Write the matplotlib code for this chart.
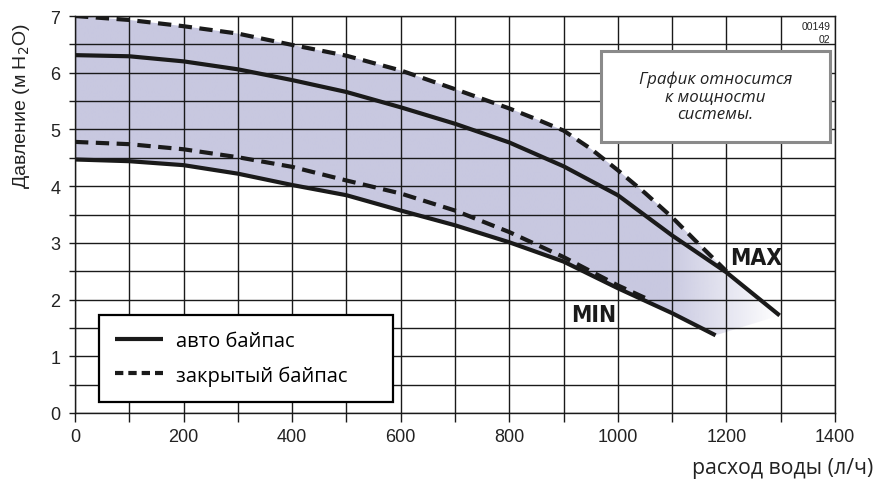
import numpy as np
import matplotlib.pyplot as plt
from matplotlib import font_manager
from matplotlib.patches import Polygon, Rectangle
from matplotlib.lines import Line2D
from matplotlib.ticker import MultipleLocator

# pump curves: flow (l/h) -> head (m H2O)
flow_max_closed = [0, 100, 200, 300, 400, 500, 600, 700, 800, 850, 900, 950, 1000, 1050, 1100, 1150, 1200]
head_max_closed = [7.00, 6.93, 6.82, 6.69, 6.49, 6.30, 6.04, 5.71, 5.37, 5.18, 4.98, 4.66, 4.28, 3.88, 3.45, 2.97, 2.50]

flow_max_auto = [0, 100, 200, 300, 400, 500, 600, 700, 800, 900, 1000, 1100, 1200, 1298]
head_max_auto = [6.31, 6.29, 6.20, 6.06, 5.87, 5.66, 5.39, 5.10, 4.77, 4.35, 3.84, 3.13, 2.48, 1.72]

flow_min_closed = [0, 100, 200, 300, 400, 500, 600, 700, 800, 900, 1000, 1050]
head_min_closed = [4.78, 4.74, 4.65, 4.51, 4.34, 4.10, 3.87, 3.57, 3.19, 2.75, 2.25, 2.03]

flow_min_auto = [0, 100, 200, 300, 400, 500, 600, 700, 800, 900, 1000, 1100, 1180]
head_min_auto = [4.47, 4.44, 4.37, 4.22, 4.02, 3.84, 3.57, 3.31, 3.01, 2.67, 2.20, 1.76, 1.37]

names = {f.name for f in font_manager.fontManager.ttflist}
narrow = 'Liberation Sans Narrow' if 'Liberation Sans Narrow' in names else 'DejaVu Sans'

ink = '#1a1a1a'
shade_rgb = (200 / 255, 200 / 255, 224 / 255)

fig, ax = plt.subplots(figsize=(8.76, 4.81), dpi=100)
fig.subplots_adjust(left=75 / 876, right=835 / 876, bottom=(481 - 414) / 481, top=(481 - 17) / 481)

# shaded band with a fade towards the right end
top_x = flow_max_closed + [flow_max_auto[-1]]
top_y = head_max_closed + [head_max_auto[-1]]
verts = np.column_stack([np.r_[top_x, flow_min_auto[::-1]], np.r_[top_y, head_min_auto[::-1]]])
band = Polygon(verts, closed=True, facecolor='none', edgecolor='none')
ax.add_patch(band)
xs = np.linspace(0, 1300, 500)
grad = np.zeros((1, xs.size, 4))
grad[..., :3] = shade_rgb
grad[0, :, 3] = np.clip((1300 - xs) / (1300 - 1090), 0, 1)
im = ax.imshow(grad, extent=[0, 1300, 0, 7], aspect='auto', origin='lower',
               zorder=0, interpolation='bilinear')
im.set_clip_path(band)

lw = 3.0
dash = (3.2, 1.8)
ax.plot(flow_max_auto, head_max_auto, color=ink, lw=lw, solid_capstyle='butt', zorder=3)
ax.plot(flow_min_auto, head_min_auto, color=ink, lw=lw, solid_capstyle='butt', zorder=3)
ax.plot(flow_max_closed, head_max_closed, color=ink, lw=lw, dashes=dash, zorder=3)
ax.plot(flow_min_closed, head_min_closed, color=ink, lw=lw, dashes=dash, zorder=3)

ax.set_xlim(0, 1400)
ax.set_ylim(0, 7)
ax.set_xticks(range(0, 1401, 200))
ax.xaxis.set_minor_locator(MultipleLocator(100))
ax.set_yticks(range(0, 8))
ax.yaxis.set_minor_locator(MultipleLocator(0.5))
ax.grid(which='both', color=ink, lw=1.0)
ax.tick_params(axis='x', which='both', direction='out', length=6.5, width=1.0, color=ink, pad=4)
ax.tick_params(axis='y', which='both', direction='out', length=4.5, width=1.0, color=ink, pad=6)
ax.tick_params(labelsize=13, labelcolor='#222222')
for lab in ax.get_xticklabels() + ax.get_yticklabels():
    lab.set_family('Liberation Sans')
for sp in ax.spines.values():
    sp.set_color(ink)
    sp.set_linewidth(1.0)

fig.text(22 / 876, 1 - 106 / 481, 'Давление (м H$_2$O)', rotation=90, ha='center', va='center',
         fontsize=14, family='Liberation Sans', color='#222222')
fig.text(873 / 876, 1 - 469 / 481, 'расход воды (л/ч)', ha='right', va='center',
         fontsize=15.3, family='Open Sans', color='#222222')

# note box
ax.add_patch(Rectangle((969, 4.78), 422, 1.61, facecolor='white', edgecolor='#8a8a8a', lw=2.2, zorder=4))
ax.text(1180, 5.585, 'График относится\nк мощности\nсистемы.', ha='center', va='center',
        fontsize=12.2, style='italic', family='Open Sans', color='#222222', linespacing=1.15, zorder=5)
ax.text(1392, 6.91, '00149\n02', ha='right', va='top', fontsize=7.5, family='Liberation Sans',
        color='#222222', linespacing=1.35, zorder=5)

ax.text(1255, 2.74, 'MAX', ha='center', va='center', fontsize=16.5, family=narrow,
        fontstretch='condensed', fontweight='bold', color=ink, zorder=5)
ax.text(955, 1.73, 'MIN', ha='center', va='center', fontsize=16.5, family=narrow,
        fontstretch='condensed', fontweight='bold', color=ink, zorder=5)

handles = [Line2D([], [], color=ink, lw=lw, solid_capstyle='butt'),
           Line2D([], [], color=ink, lw=lw, dashes=(2.0, 1.2))]
leg = ax.legend(handles, ['авто байпас', 'закрытый байпас'], loc='lower left',
                bbox_to_anchor=(44, 0.20, 541, 1.53), bbox_transform=ax.transData, mode='expand',
                fancybox=False, edgecolor='black', framealpha=1,
                prop=dict(family='Open Sans', size=14.5), handlelength=2.4, handletextpad=0.65,
                borderpad=0.8, labelspacing=0.7, borderaxespad=0)
leg.get_frame().set_linewidth(1.6)
leg.set_zorder(6)

fig.savefig('out.png', dpi=100)
